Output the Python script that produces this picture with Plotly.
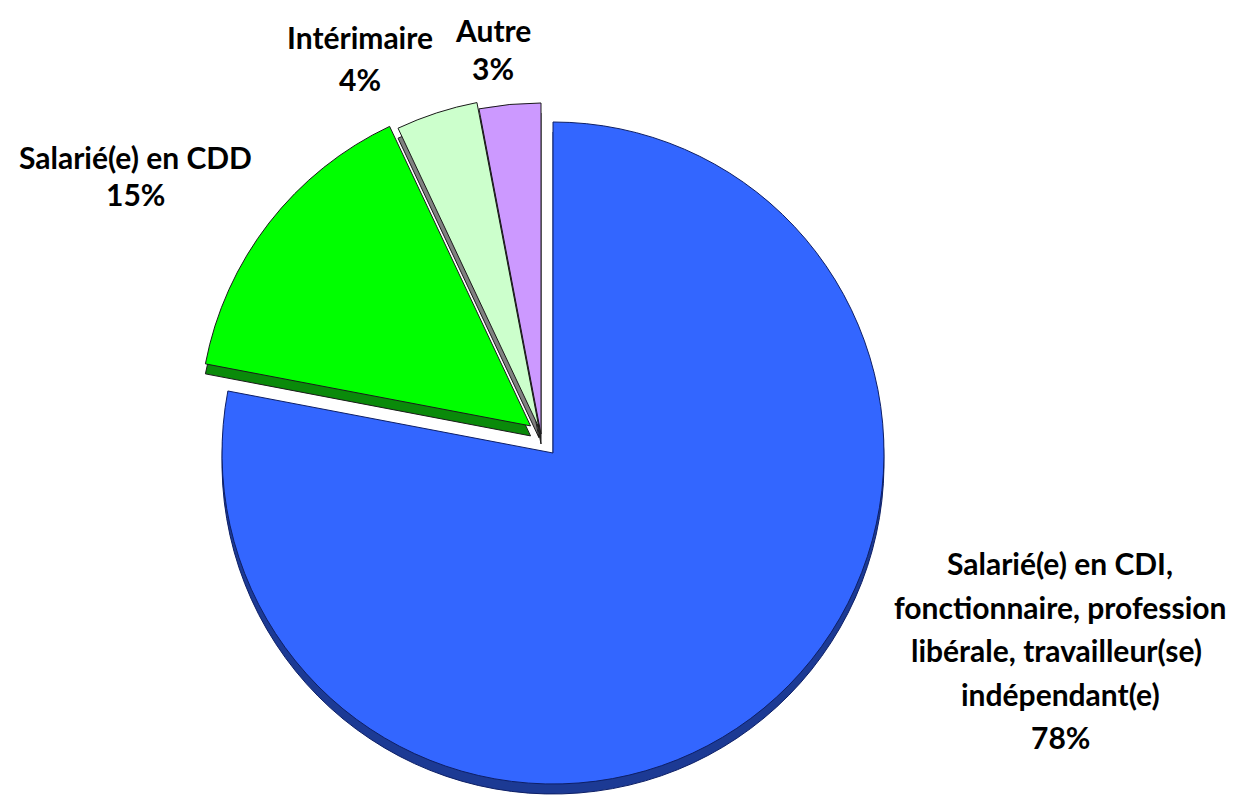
import plotly.graph_objects as go

# ---- data ----
categories = [
    "Salarié(e) en CDI, fonctionnaire, profession libérale, travailleur(se) indépendant(e)",
    "Salarié(e) en CDD",
    "Intérimaire",
    "Autre",
]
values = [78, 15, 4, 3]
label_lines = [
    ["Salarié(e) en CDI,", "fonctionnaire, profession", "libérale, travailleur(se)\u00a0", "indépendant(e)"],
    ["Salarié(e) en CDD"],
    ["Intérimaire"],
    ["Autre"],
]

# ---- styles ----
face_colors = ["#3366ff", "#00ff00", "#ccffcc", "#cc99ff"]
side_colors = ["#1c3a94", "#0a8a0a", "#808080", "#2a2a2a"]
edge_colors = ["#0d1f66", "#1a1a1a", "#1a1a1a", "#1a1a1a"]
exploded = [False, True, True, True]
extra_pull = [0, 0.04, 0.02, 0]

W, H = 1239, 796
OFF = 8          # default page margin of the html body
R = 331          # pie radius (px)
DEPTH = 10       # 3D thickness (px)
cA = (553, 453)  # centre of main slice (screen px)
cB = (541, 434)  # centre of exploded group (screen px)

label_pos = [  # centre x, first line y, line step (screen px)
    (1060, 563, 43.5),
    (135, 157, 37),
    (360, 37, 42),
    (493, 30, 38),
]

TRANSPARENT = "rgba(0,0,0,0)"


def domain(cx, cy, half):
    cx -= OFF
    cy -= OFF
    return dict(x=[(cx - half) / W, (cx + half) / W],
                y=[(H - cy - half) / H, (H - cy + half) / H])


def pie(mask, colors, center, pull, dy=0):
    maxp = max(pull)
    half = R * (1 + maxp)
    return go.Pie(
        labels=categories, values=values, sort=False, direction="clockwise", rotation=0,
        pull=pull, textinfo="none", hoverinfo="skip", showlegend=False,
        marker=dict(
            colors=[c if m else TRANSPARENT for c, m in zip(colors, mask)],
            line=dict(color=[e if m else TRANSPARENT for e, m in zip(edge_colors, mask)],
                      width=[1 if m else 0 for m in mask]),
        ),
        domain=domain(center[0], center[1] + dy, half),
    )


maskA = [not e for e in exploded]
maskB = exploded
pullA = [0] * len(values)
pullB = extra_pull

fig = go.Figure()
fig.add_trace(pie(maskA, side_colors, cA, pullA, dy=DEPTH))
fig.add_trace(pie(maskA, face_colors, cA, pullA))
fig.add_trace(pie(maskB, side_colors, cB, pullB, dy=DEPTH))
fig.add_trace(pie(maskB, face_colors, cB, pullB))

annotations = []
for lines, v, (x, y0, step) in zip(label_lines, values, label_pos):
    for i, t in enumerate(lines + [f"{v}%"]):
        annotations.append(dict(
            text=t, x=(x - OFF) / W, y=1 - (y0 + i * step - OFF) / H,
            xref="paper", yref="paper",
            xanchor="center", yanchor="middle", showarrow=False,
            font=dict(family="Lato", size=30, color="#000000", weight="bold"),
        ))

fig.update_layout(
    width=W, height=H, margin=dict(l=0, r=0, t=0, b=0),
    paper_bgcolor="white", plot_bgcolor="white",
    annotations=annotations,
)

fig.write_html("out.html")
